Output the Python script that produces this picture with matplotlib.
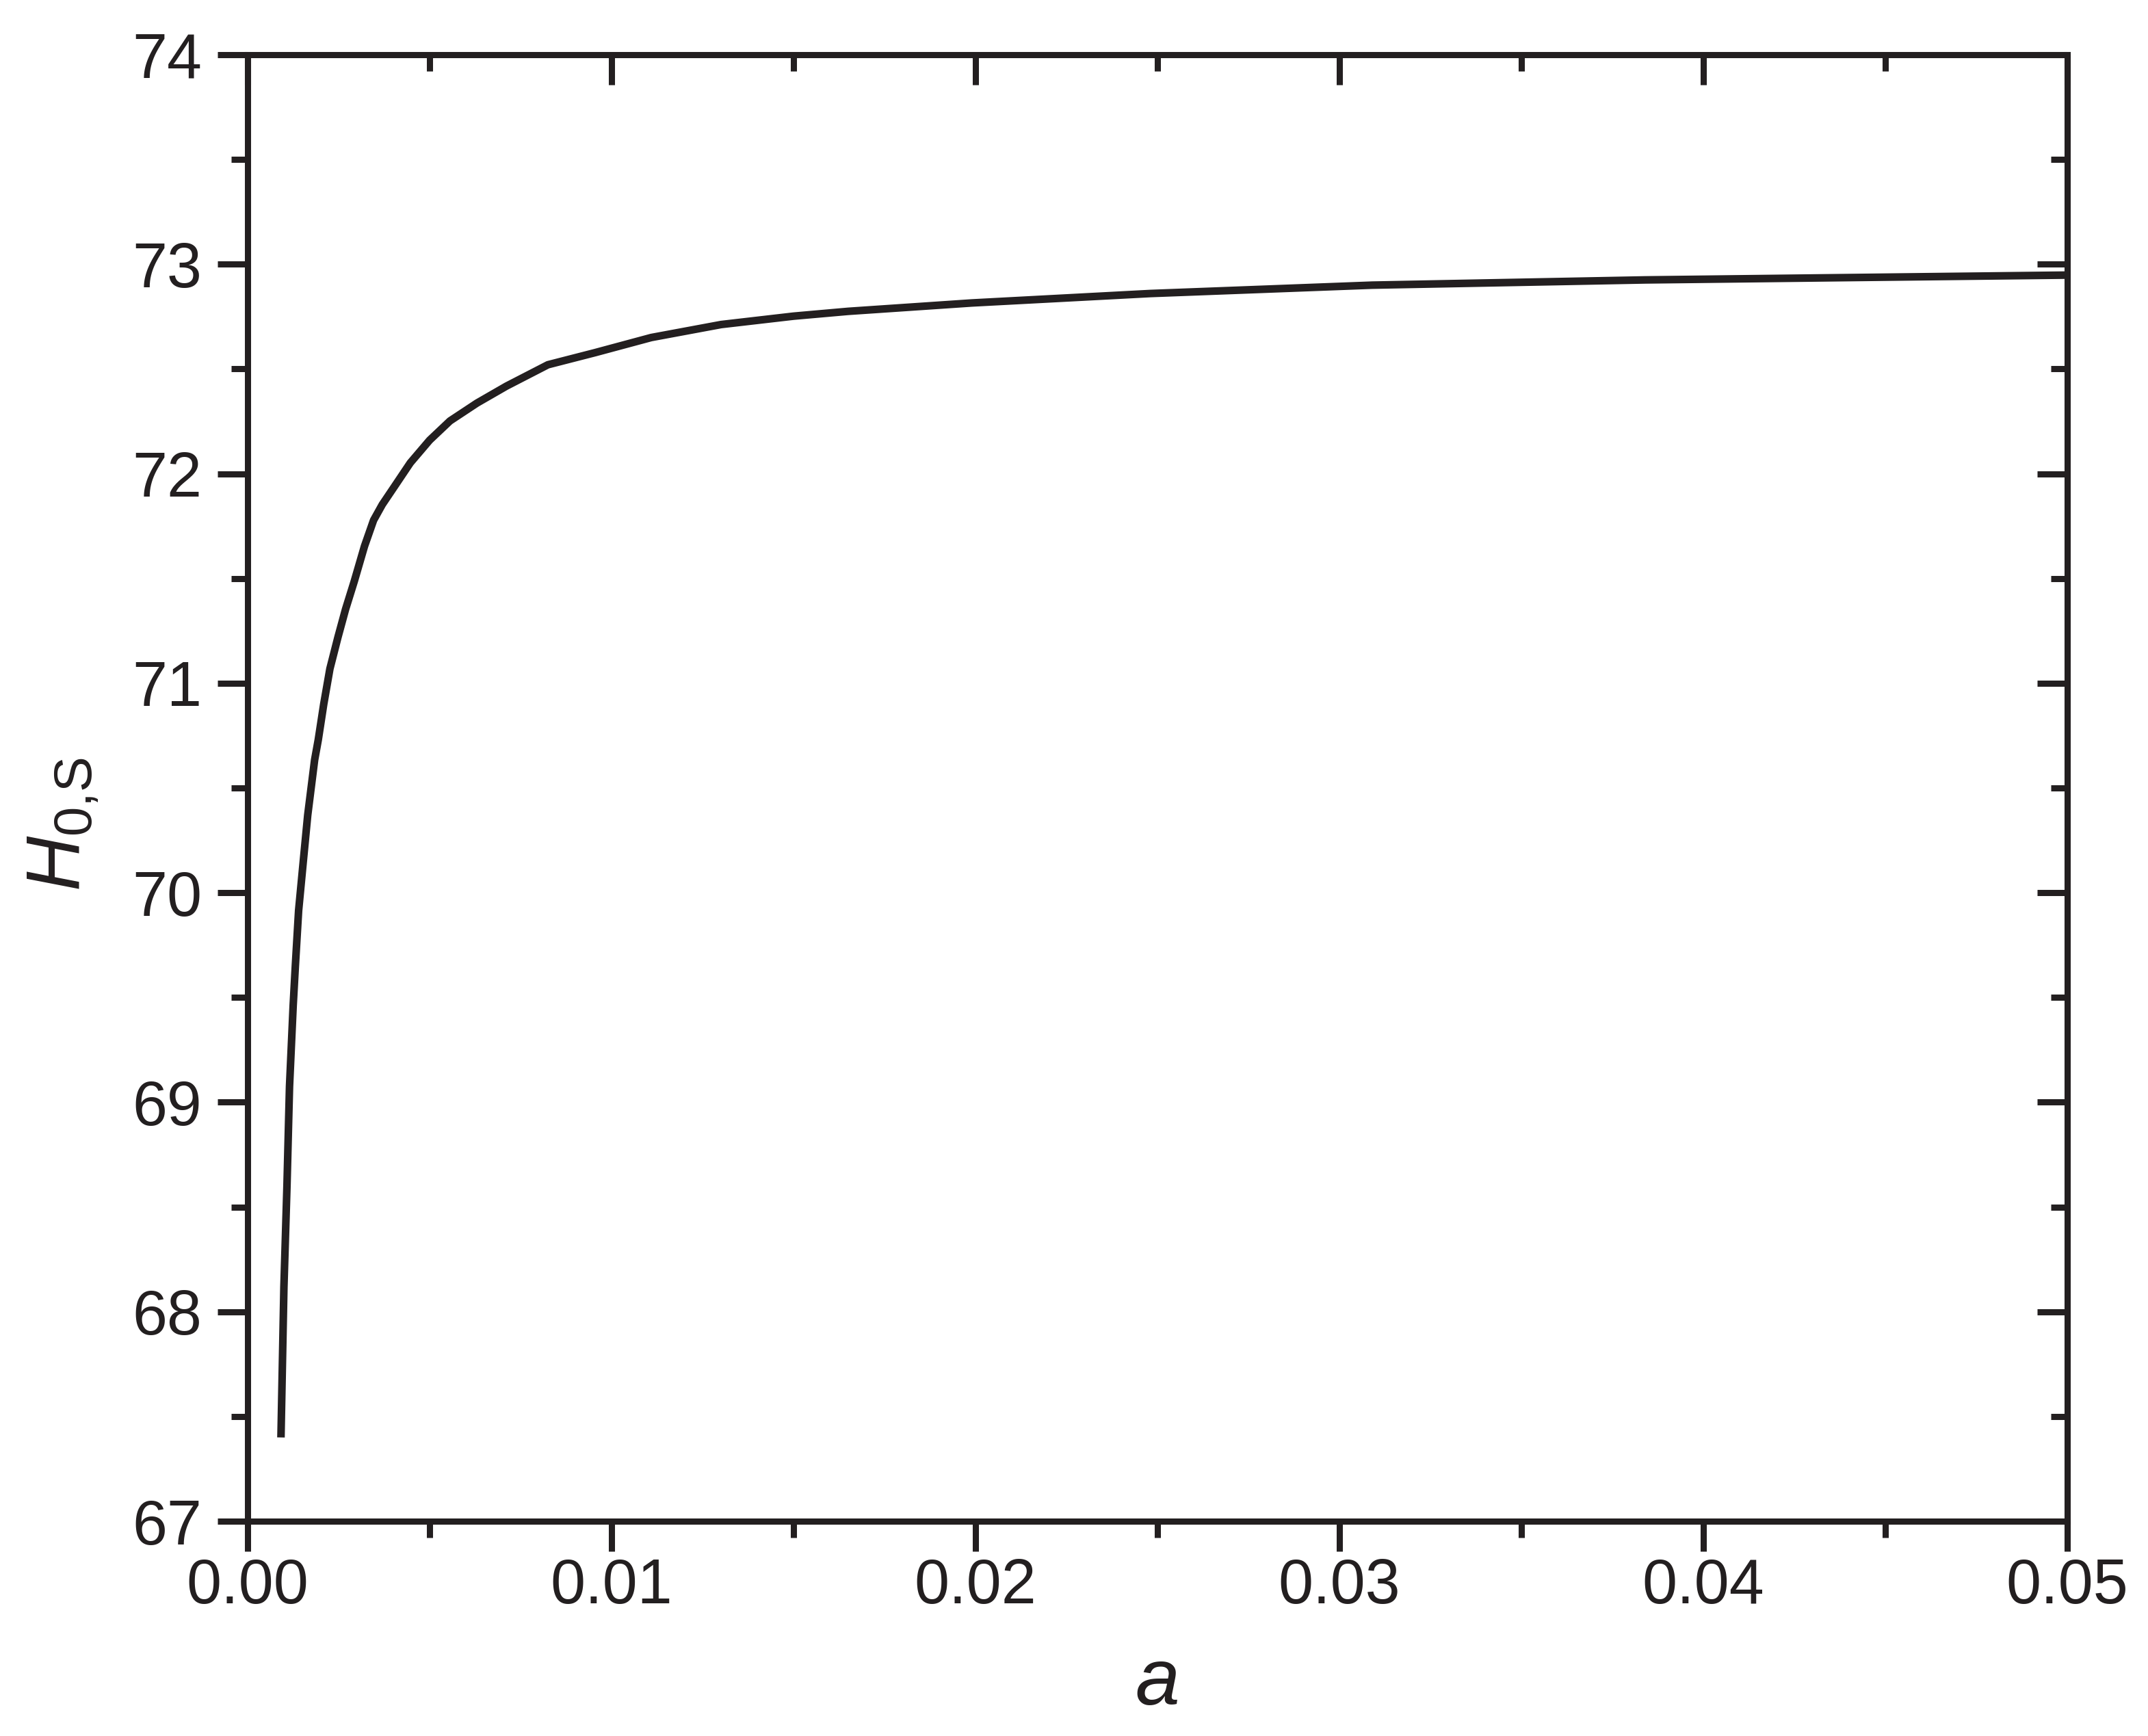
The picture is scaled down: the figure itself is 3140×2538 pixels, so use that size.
import numpy as np
import matplotlib.pyplot as plt
from matplotlib.ticker import MultipleLocator

# values
a_vals = [0.000915, 0.000996, 0.00108, 0.00115, 0.00125, 0.00131, 0.00140,
          0.00153, 0.00165, 0.00184, 0.00194, 0.00209, 0.00226, 0.00248,
          0.00269, 0.00293, 0.00321, 0.00346, 0.00370, 0.00408, 0.00447,
          0.00500, 0.00556, 0.00630, 0.00711, 0.00825, 0.00955, 0.01109,
          0.01301, 0.01500, 0.0165, 0.0199, 0.0248, 0.0309, 0.0384, 0.0500]
h0s_vals = [67.40, 68.118, 68.60, 69.075, 69.46, 69.65, 69.915,
            70.153, 70.37, 70.634, 70.73, 70.90, 71.069, 71.219,
            71.353, 71.487, 71.654, 71.778, 71.853, 71.951, 72.052,
            72.160, 72.252, 72.337, 72.418, 72.520, 72.578, 72.650,
            72.712, 72.752, 72.775, 72.815, 72.86, 72.90, 72.925, 72.948]
x_ticks = [0.00, 0.01, 0.02, 0.03, 0.04, 0.05]
y_ticks = [67, 68, 69, 70, 71, 72, 73, 74]

ink = '#231f20'
plt.rcParams['font.family'] = ['Liberation Sans', 'DejaVu Sans']
plt.rcParams['mathtext.fontset'] = 'custom'
plt.rcParams['mathtext.rm'] = 'Liberation Sans'
plt.rcParams['mathtext.it'] = 'Liberation Sans:italic'

fig = plt.figure(figsize=(31.4, 25.38), dpi=100)
ax = fig.add_axes([0.1153, 0.1237, 0.8471, 0.8448])

ax.plot(a_vals, h0s_vals, color=ink, linewidth=8, solid_capstyle='butt')

ax.set_xlim(0, 0.05)
ax.set_ylim(67, 74)
ax.set_xticks(x_ticks)
ax.set_xticklabels(['%.2f' % v for v in x_ticks])
ax.set_yticks(y_ticks)
ax.xaxis.set_minor_locator(MultipleLocator(0.005))
ax.yaxis.set_minor_locator(MultipleLocator(0.5))

for s in ['left', 'right', 'top', 'bottom']:
    ax.spines[s].set_linewidth(6.5)
    ax.spines[s].set_color(ink)

ax.tick_params(which='major', direction='out', length=32, width=6.5, color=ink,
               labelsize=66, labelcolor=ink)
ax.tick_params(which='minor', direction='out', length=17, width=6.5, color=ink)
ax.tick_params(which='both', top=True, right=True)
ax.tick_params(axis='x', which='major', pad=6)
ax.tick_params(axis='y', which='major', pad=16)

# opposite axes: ticks pointing inward
for t in ax.xaxis.get_major_ticks() + ax.xaxis.get_minor_ticks():
    t.tick2line.set_marker(3)
for t in ax.yaxis.get_major_ticks() + ax.yaxis.get_minor_ticks():
    t.tick2line.set_marker(0)

fig.text(0.5382, 0.0181, r'$a$', fontsize=84, color=ink, ha='center', va='baseline')
fig.text(0.0373, 0.4866, r'$H_{0{,}\mathrm{S}}$', fontsize=80, color=ink,
         rotation=90, rotation_mode='anchor', ha='left', va='baseline')

fig.savefig('out.png', dpi=100, facecolor='white')
